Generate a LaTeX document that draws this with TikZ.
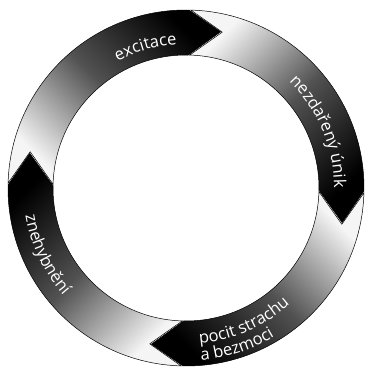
\documentclass[tikz,border=0pt]{standalone}
\usepackage{fontspec}
\setmainfont{Open Sans}
\usetikzlibrary{decorations.text}
\newcommand\lblfont{\color{white}\fontsize{16.5}{19}\selectfont}
\tikzset{
  ringarrow/.style={draw=black, line width=0.5pt, top color=gray!8, bottom color=black, middle color=black!68},
  arclabel/.style={decorate, decoration={text along path, text align=center, text={|\lblfont|#1}}},
  arclabelleft/.style={decorate, decoration={text along path, text align=left, text={|\lblfont|#1}}}
}
\begin{document}
\begin{tikzpicture}[x=1pt,y=1pt]
\useasboundingbox (0,0) rectangle (366,368);
\begin{scope}[shift={(186,180)}]
\def\Ro{178pt}\def\Ri{133pt}\def\Rm{160pt}\def\hd{11.5}\def\gp{0.6}
\foreach \a/\sa in {89/135, -1/45, -91/-45, -181/225} {
  \pgfmathsetmacro\t{\a+90-\gp}
  \path[ringarrow, shading angle=\sa]
    (\t:\Ro) arc[start angle=\t, end angle=\a, radius=\Ro]
    -- (\a-\hd:\Rm) -- (\a:\Ri)
    arc[start angle=\a, end angle=\t, radius=\Ri]
    -- (\t-\hd:\Rm) -- cycle;
}
\path[arclabel=excitace] (136:144pt) arc[start angle=136, end angle=76, radius=144pt];
\path[arclabel=nezdařený únik] (63:148pt) arc[start angle=63, end angle=-17, radius=148pt];
\path[arclabelleft=pocit strachu] (-85:156pt) arc[start angle=-85, end angle=-20, radius=156pt];
\path[arclabelleft=a bezmoci] (-85:173pt) arc[start angle=-85, end angle=-20, radius=173pt];
\path[arclabel=znehybnění] (175:163pt) arc[start angle=175, end angle=236, radius=163pt];
\end{scope}
\end{tikzpicture}
\end{document}
